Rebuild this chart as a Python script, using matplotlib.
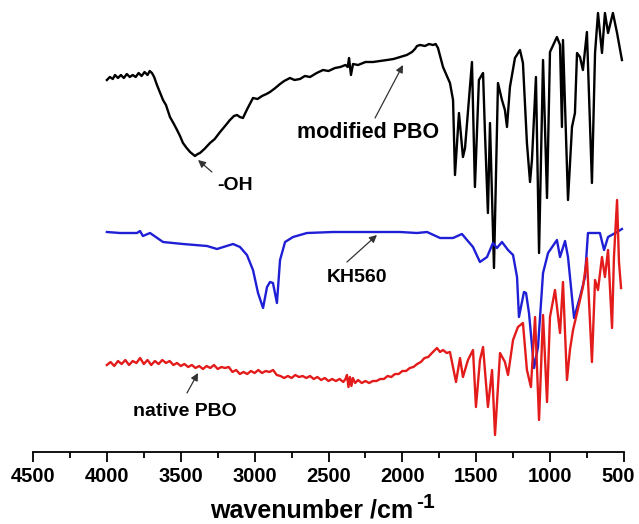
import matplotlib
matplotlib.use("Agg")
import matplotlib.pyplot as plt
from matplotlib.ticker import MultipleLocator
from matplotlib.transforms import ScaledTranslation

plt.rcParams['font.family'] = ['Liberation Sans', 'DejaVu Sans']
plt.rcParams['font.weight'] = 'bold'

# ---- data (wavenumber in cm-1, intensity in arbitrary units with offsets) ----
mod_wn = [4000, 3980, 3960, 3945, 3925, 3905, 3885, 3865, 3845, 3825, 3805, 3785, 3765, 3745,
          3725, 3710, 3695, 3680, 3661, 3620, 3600, 3573, 3550, 3525, 3505, 3485, 3460, 3437,
          3420, 3404, 3385, 3370, 3340, 3302, 3270, 3234, 3200, 3167, 3140, 3119, 3100, 3079,
          3050, 3011, 2980, 2950, 2920, 2896, 2860, 2828, 2800, 2761, 2730, 2693, 2660, 2625,
          2580, 2537, 2500, 2456, 2420, 2385, 2370, 2361, 2348, 2334, 2300, 2250, 2199, 2150,
          2104, 2060, 2016, 1970, 1935, 1915, 1901, 1880, 1847, 1820, 1793, 1775, 1759,
          1725, 1678, 1657, 1644, 1617, 1590, 1576, 1529, 1509, 1482, 1454, 1441, 1421, 1407,
          1380, 1353, 1326, 1306, 1292, 1272, 1238, 1204, 1184, 1157, 1136, 1123, 1096, 1075,
          1048, 1021, 1001, 954, 933, 920, 913, 879, 852, 832, 818, 798, 778, 751, 717, 696,
          676, 649, 629, 608, 575, 547, 514]
mod_val = [381, 384, 382, 386, 383, 386, 383, 387, 384, 386, 384, 388, 385, 389,
           386, 390, 388, 384, 376, 361, 356, 344, 338, 331, 325, 318, 313, 309,
           307, 305, 307, 308, 312, 318, 322, 329, 335, 341, 345, 346, 344, 343,
           352, 363, 362, 365, 367, 369, 373, 377, 380, 383, 381, 382, 385, 384,
           388, 391, 390, 393, 394, 396, 394, 403, 386, 397, 396, 399, 399, 400,
           401, 402, 404, 406, 409, 412, 415, 416, 415, 417, 416, 417, 413,
           394, 378, 361, 286, 348, 304, 313, 399, 274, 381, 388, 328, 248, 338,
           193, 378, 361, 351, 334, 374, 403, 411, 398, 318, 279, 301, 384, 208,
           401, 263, 409, 424, 416, 334, 421, 261, 334, 348, 408, 404, 391, 429, 278, 408,
           448, 408, 448, 428, 448, 428, 401]

kh_wn = [4000, 3911, 3796, 3776, 3756, 3708, 3620, 3485, 3322, 3255, 3146, 3099, 3052, 3011,
         2977, 2943, 2916, 2896, 2876, 2849, 2828, 2794, 2740, 2646, 2470, 2239, 2016, 1901,
         1833, 1745, 1657, 1597, 1522, 1475, 1427, 1387, 1360, 1326, 1285, 1251, 1224, 1211,
         1177, 1163, 1143, 1109, 1082, 1048, 1014, 954, 933, 899, 879, 838, 798, 764, 744,
         663, 635, 608, 547, 514]
kh_val = [229, 228, 228, 230, 225, 228, 219, 217, 215, 212, 217, 214, 206, 191,
          168, 153, 174, 179, 178, 158, 201, 219, 224, 228, 229, 229, 229, 228,
          229, 223, 223, 227, 214, 199, 204, 218, 213, 219, 211, 206, 184, 144,
          169, 168, 148, 93, 114, 188, 208, 221, 204, 220, 204, 143, 164, 184, 228,
          228, 211, 224, 229, 232]

nat_wn = [4000, 3975, 3950, 3925, 3900, 3875, 3850, 3825, 3800, 3775, 3750, 3725, 3700, 3675,
          3650, 3625, 3600, 3575, 3550, 3525, 3500, 3475, 3450, 3425, 3400, 3375, 3350, 3325,
          3300, 3275, 3250, 3225, 3200, 3175, 3150, 3125, 3100, 3075, 3050, 3025, 3000, 2975,
          2950, 2925, 2900, 2875, 2850, 2825, 2800, 2775, 2750, 2725, 2700, 2675, 2650, 2625,
          2600, 2575, 2550, 2525, 2500, 2475, 2450, 2425, 2400, 2385, 2375, 2365, 2355, 2345,
          2335, 2320, 2300, 2275, 2250, 2225, 2200, 2175, 2150, 2125, 2100, 2075, 2050, 2025,
          2000, 1975, 1950, 1925, 1900, 1875, 1850, 1825, 1800, 1780, 1766, 1745, 1725, 1700,
          1678, 1637, 1610, 1590, 1556, 1522, 1502, 1475, 1454, 1421, 1393, 1373, 1339, 1306,
          1285, 1251, 1218, 1184, 1157, 1130, 1102, 1075, 1048, 1021, 1001, 967, 933, 913,
          886, 866, 845, 818, 778, 751, 717, 696, 676, 649, 629, 608, 581, 568, 547, 534, 520]
nat_val = [96, 99, 95, 100, 97, 101, 96, 100, 98, 103, 97, 101, 96, 100,
           97, 101, 98, 100, 96, 98, 95, 97, 94, 96, 93, 95, 92, 95,
           93, 96, 92, 94, 93, 94, 89, 91, 87, 89, 87, 90, 88, 91,
           88, 90, 89, 91, 86, 85, 83, 85, 83, 86, 84, 85, 83, 85,
           82, 84, 81, 83, 80, 82, 80, 82, 79, 82, 86, 74, 84, 75,
           83, 78, 81, 78, 80, 78, 80, 80, 82, 82, 85, 84, 87, 87,
           90, 90, 93, 94, 97, 99, 103, 104, 108, 111, 113, 109, 111, 108,
           109, 79, 103, 84, 101, 111, 54, 101, 114, 54, 91, 26, 108, 99,
           86, 121, 134, 138, 91, 74, 144, 41, 146, 59, 144, 171, 128, 179,
           81, 111, 131, 148, 174, 203, 99, 181, 171, 204, 184, 211, 133, 204, 261, 199, 173]

xticks = [4500, 4000, 3500, 3000, 2500, 2000, 1500, 1000, 500]

# ---- figure ----
fig = plt.figure(figsize=(6.39, 5.24), dpi=100)
ax = fig.add_axes([33 / 639, 72 / 524, 591 / 639, 452 / 524])

ax.plot(mod_wn, mod_val, color='black', lw=1.7, solid_joinstyle='round')
ax.plot(kh_wn, kh_val, color='#1f1fd6', lw=1.7, solid_joinstyle='round')
ax.plot(nat_wn, nat_val, color='#e31b1b', lw=1.7, solid_joinstyle='round')

ax.set_xlim(4500, 500)
ax.set_ylim(9, 461)
ax.set_xticks(xticks)
ax.set_xticklabels([str(t) for t in xticks])
ax.xaxis.set_minor_locator(MultipleLocator(250))
ax.set_yticks([])
for s in ['top', 'right', 'left']:
    ax.spines[s].set_visible(False)
ax.spines['bottom'].set_linewidth(1.3)
ax.tick_params(axis='x', which='major', direction='out', length=7, width=1.3,
               labelsize=14.5, pad=3.5)
ax.tick_params(axis='x', which='minor', direction='out', length=4, width=1.3)
labels = ax.get_xticklabels()
for lab in labels:
    lab.set_fontweight('bold')
# keep the last label inside the canvas
labels[-1].set_transform(labels[-1].get_transform() +
                         ScaledTranslation(-6 / 100, 0, fig.dpi_scale_trans))

# x-axis title with a full-size superscript
fig.text(413 / 639, 1 - 518 / 524, 'wavenumber /cm', ha='right', va='baseline',
         fontsize=18, fontweight='bold')
fig.text(416 / 639, 1 - 508 / 524, '-1', ha='left', va='baseline',
         fontsize=15, fontweight='bold')

arrow = dict(arrowstyle='-|>', color='#333333', lw=0.9, mutation_scale=11, shrinkA=0, shrinkB=0)
ax.annotate('', xy=(3383, 301), xytext=(3289, 289), arrowprops=arrow)
ax.text(3133, 276, '-OH', ha='center', va='center', fontsize=14, fontweight='bold')
ax.annotate('', xy=(1996, 396), xytext=(2185, 343), arrowprops=arrow)
ax.text(2233, 329, 'modified PBO', ha='center', va='center', fontsize=15.5, fontweight='bold')
ax.annotate('', xy=(2172, 226), xytext=(2375, 199), arrowprops=arrow)
ax.text(2307, 183, 'KH560', ha='center', va='center', fontsize=14, fontweight='bold')
ax.annotate('', xy=(3383, 88), xytext=(3458, 68), arrowprops=arrow)
ax.text(3471, 49, 'native PBO', ha='center', va='center', fontsize=14, fontweight='bold')

fig.savefig('out.png', dpi=100)
